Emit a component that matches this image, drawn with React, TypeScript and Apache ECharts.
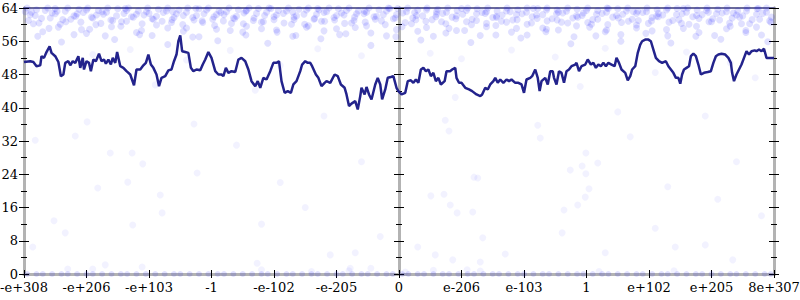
import React, { useEffect, useRef } from 'react';
import * as echarts from 'echarts';

// x axis: 13 evenly spaced ticks at -6..6, labelled with float magnitudes
const xTickLabels = ['-e+308', '-e+206', '-e+103', '-1', '-e-102', '-e-205', '0', 'e-206', 'e-103', '1', 'e+102', 'e+205', '8e+307'];
const xMin = -6;
const xMax = 6;
const yMin = 0;
const yMax = 64;
const yStep = 8;

// rolling mean line (x position, value)
const rollingMean: [number, number][] = [
  [-6.0, 51], [-5.9, 51.2], [-5.85, 51], [-5.8, 50], [-5.74, 50.2], [-5.72, 52.4], [-5.68, 52], [-5.64, 53.4], [-5.59, 54.8], [-5.56, 53.2],
  [-5.5, 52.4], [-5.45, 51], [-5.41, 47.6], [-5.37, 48], [-5.34, 50.8], [-5.29, 51.2], [-5.26, 50.2], [-5.22, 51.2], [-5.18, 50.8], [-5.13, 52.4],
  [-5.1, 49.6], [-5.06, 52], [-5.04, 49.2], [-5.0, 51.2], [-4.96, 50.8], [-4.93, 48.8], [-4.89, 51.6], [-4.85, 51.2], [-4.8, 53], [-4.76, 51.2],
  [-4.72, 51.6], [-4.69, 50.6], [-4.65, 51.6], [-4.61, 50.4], [-4.58, 52], [-4.54, 50.8], [-4.51, 53.4], [-4.46, 50], [-4.41, 49.6], [-4.36, 48.8],
  [-4.3, 48], [-4.24, 45.4], [-4.2, 49.2], [-4.14, 49.2], [-4.09, 50.2], [-4.05, 50.8], [-4.01, 52.8], [-3.97, 50.4], [-3.93, 49.6], [-3.88, 48],
  [-3.84, 45.2], [-3.8, 47.2], [-3.74, 47.6], [-3.69, 49], [-3.64, 49.2], [-3.6, 51.2], [-3.56, 52.8], [-3.53, 56], [-3.5, 57.4], [-3.47, 53.6],
  [-3.42, 53.4], [-3.37, 53.2], [-3.33, 49.6], [-3.29, 48.8], [-3.24, 49.2], [-3.18, 49], [-3.14, 50.4], [-3.1, 51.6],
  [-3.05, 53.4], [-3.0, 52], [-2.94, 48.8], [-2.89, 48], [-2.84, 48], [-2.81, 47.6], [-2.77, 49.6], [-2.73, 48.4], [-2.68, 48.8], [-2.62, 48.6],
  [-2.57, 51.6], [-2.52, 52], [-2.46, 51.2], [-2.41, 49.2], [-2.36, 46.4], [-2.3, 45.2], [-2.26, 46.4], [-2.22, 44.8], [-2.17, 47.2], [-2.12, 46.8],
  [-2.06, 48.8], [-2.01, 50.8], [-1.96, 50.8], [-1.92, 51.2], [-1.88, 46.4], [-1.83, 43.6], [-1.78, 44], [-1.73, 43.6], [-1.69, 45.6], [-1.64, 46.4],
  [-1.58, 48.8], [-1.55, 50.4], [-1.5, 51.2], [-1.46, 50.8], [-1.42, 50.8], [-1.39, 50], [-1.33, 48], [-1.29, 47.2], [-1.24, 45.2], [-1.19, 46],
  [-1.16, 46.4], [-1.1, 46], [-1.03, 48], [-0.98, 47.6], [-0.93, 45.6], [-0.87, 44.8], [-0.84, 43.2], [-0.8, 40.4], [-0.76, 41], [-0.7, 41.6],
  [-0.66, 39.6], [-0.62, 42.8], [-0.6, 44.8], [-0.55, 43.2], [-0.52, 45], [-0.48, 43.2], [-0.44, 42], [-0.38, 45.6], [-0.34, 47.2], [-0.3, 45.6],
  [-0.27, 42], [-0.22, 44.4], [-0.18, 47.2], [-0.13, 47.4], [-0.09, 47.6], [-0.04, 44.8],
  [-0.01, 44], [0.04, 43.2], [0.1, 43.6], [0.14, 46.4], [0.19, 46.6], [0.23, 46], [0.27, 46.8], [0.31, 46], [0.35, 49.2], [0.39, 49.6],
  [0.43, 48.8], [0.47, 49.2], [0.51, 47.6], [0.55, 48.4], [0.59, 46.4], [0.63, 47.2], [0.67, 45.6], [0.73, 46.4], [0.76, 48.8], [0.82, 48.8],
  [0.85, 49.2], [0.9, 49.6], [0.92, 47.2], [0.96, 46], [1.0, 46], [1.06, 44.8], [1.12, 44.4], [1.17, 44], [1.24, 43.2], [1.3, 42.8],
  [1.33, 43.2], [1.38, 44.8], [1.42, 44.4], [1.46, 45.6], [1.51, 46.4], [1.54, 47.2], [1.58, 46], [1.62, 46.8], [1.67, 46], [1.72, 46.8],
  [1.76, 46.4], [1.8, 46.8], [1.86, 46], [1.91, 46], [1.96, 45.6], [2.0, 43.6], [2.04, 46.8], [2.1, 47.2], [2.13, 47.6], [2.18, 49.2],
  [2.22, 47.2], [2.25, 44], [2.28, 46.4], [2.34, 47.2], [2.38, 45.6], [2.42, 48.8], [2.46, 48.8], [2.48, 47.2], [2.52, 45.6], [2.56, 48.8],
  [2.6, 48.4], [2.64, 46], [2.68, 48.8], [2.72, 49.2], [2.76, 50], [2.82, 50.4], [2.84, 50.8], [2.88, 48.8], [2.92, 50], [2.98, 50.4], [3.02, 51.6],
  [3.07, 50.4], [3.11, 50.8], [3.15, 49.6], [3.19, 50.4], [3.23, 50], [3.27, 50.8], [3.31, 50], [3.35, 50.8], [3.4, 50.4], [3.45, 50],
  [3.48, 52], [3.52, 50.8], [3.56, 49.2], [3.62, 48.4], [3.66, 46.6], [3.7, 47.6], [3.73, 49.2], [3.78, 50], [3.82, 53.2], [3.86, 55.2],
  [3.89, 56], [3.94, 56.4], [3.99, 56.4], [4.03, 56], [4.07, 54], [4.11, 52], [4.16, 51.2], [4.21, 50.8], [4.27, 51.2], [4.31, 50],
  [4.35, 49.2], [4.39, 48.4], [4.43, 47.2], [4.47, 47.2], [4.5, 45.8], [4.53, 48], [4.56, 49.2], [4.6, 49.6], [4.64, 50], [4.67, 52.4],
  [4.71, 53], [4.75, 52.4], [4.79, 50.4], [4.83, 48], [4.88, 48.4], [4.94, 48.6], [4.99, 48.8], [5.03, 50.8], [5.07, 52.4], [5.11, 52.8],
  [5.16, 53], [5.22, 52.8], [5.27, 52], [5.31, 50.8], [5.33, 48.4], [5.36, 46.4], [5.4, 48], [5.44, 49.2], [5.48, 50.4], [5.52, 52],
  [5.56, 53.6], [5.6, 52.8], [5.64, 53.6], [5.69, 53.8], [5.72, 53.6], [5.76, 54], [5.8, 53.6], [5.84, 54.2], [5.88, 52], [5.94, 52], [6.0, 52],
];

// faint sample points: dense band near the top
const topBand: [number, number][] = [
  [-5.95, 64], [-5.8, 63.6], [-5.62, 64], [-5.47, 63.2], [-5.3, 64], [-5.12, 63.7], [-4.98, 64], [-4.81, 63.4], [-4.66, 64], [-4.5, 63.8],
  [-4.33, 64], [-4.17, 63.3], [-4.02, 64], [-3.85, 63.7], [-3.7, 64], [-3.52, 63.5], [-3.38, 64], [-3.2, 63.8], [-3.05, 64], [-2.88, 63.3],
  [-2.72, 64], [-2.57, 63.6], [-2.4, 64], [-2.25, 63.9], [-2.08, 64], [-1.93, 63.4], [-1.77, 64], [-1.6, 63.7], [-1.45, 64], [-1.28, 63.5],
  [-1.12, 64], [-0.97, 63.8], [-0.8, 64], [-0.65, 63.3], [-0.48, 64], [-0.32, 63.6], [-0.17, 64], [-0.02, 63.9], [0.14, 64], [0.3, 63.5],
  [0.45, 64], [0.62, 63.7], [0.78, 64], [0.93, 63.4], [1.1, 64], [1.25, 63.8], [1.42, 64], [1.57, 63.3], [1.73, 64], [1.9, 63.6],
  [2.05, 64], [2.22, 63.9], [2.37, 64], [2.53, 63.5], [2.7, 64], [2.85, 63.7], [3.02, 64], [3.18, 63.4], [3.33, 64], [3.5, 63.8],
  [3.66, 64], [3.82, 63.2], [3.97, 64], [4.13, 63.6], [4.3, 64], [4.45, 63.9], [4.62, 64], [4.77, 63.5], [4.93, 64], [5.1, 63.7],
  [5.25, 64], [5.42, 63.3], [5.57, 64], [5.73, 63.8], [5.88, 64],
  [-5.88, 63], [-5.5, 63.9], [-5.15, 62.6], [-4.75, 63.1], [-4.38, 63.9], [-4.0, 62.7], [-3.62, 63.1], [-3.25, 63.9], [-2.85, 62.9], [-2.45, 63.2],
  [-2.05, 63.9], [-1.7, 63], [-1.3, 63.9], [-0.92, 62.8], [-0.55, 63.2], [-0.15, 63.9], [0.25, 62.9], [0.6, 63.1], [1.0, 63.9], [1.38, 62.7],
  [1.78, 63.1], [2.15, 63.9], [2.55, 63], [2.95, 62.8], [3.35, 63.9], [3.75, 63.1], [4.15, 62.7], [4.55, 63.9], [4.95, 63], [5.35, 62.8], [5.75, 63.9],
  [-5.98, 63.1], [-5.82, 62.2], [-5.66, 63.4], [-5.5, 62.6], [-5.34, 63.2], [-5.17, 62], [-5.0, 63.5], [-4.84, 62.3], [-4.68, 63], [-4.52, 62.1],
  [-4.36, 63.4], [-4.2, 62.5], [-4.04, 63.1], [-3.88, 62], [-3.72, 63.3], [-3.56, 62.6], [-3.4, 63], [-3.24, 62.2], [-3.08, 63.5], [-2.92, 62.4],
  [-2.76, 63.1], [-2.6, 62], [-2.44, 63.4], [-2.28, 62.7], [-2.12, 63], [-1.96, 62.3], [-1.8, 63.3], [-1.64, 62.1], [-1.48, 63.5], [-1.32, 62.5],
  [-1.16, 63.1], [-1.0, 62.2], [-0.84, 63.4], [-0.68, 62.6], [-0.52, 63], [-0.36, 62], [-0.2, 63.3], [-0.04, 62.4], [0.12, 63.1], [0.28, 62.2],
  [0.44, 63.5], [0.6, 62.5], [0.76, 63], [0.92, 62.1], [1.08, 63.4], [1.24, 62.6], [1.4, 63.1], [1.56, 62], [1.72, 63.3], [1.88, 62.4],
  [2.04, 63], [2.2, 62.3], [2.36, 63.5], [2.52, 62.6], [2.68, 63.2], [2.84, 62.1], [3.0, 63.4], [3.16, 62.5], [3.32, 63], [3.48, 62.2],
  [3.64, 63.3], [3.8, 62.7], [3.96, 63.1], [4.12, 62], [4.28, 63.5], [4.44, 62.4], [4.6, 63], [4.76, 62.2], [4.92, 63.4], [5.08, 62.6],
  [5.24, 63.1], [5.4, 62.3], [5.56, 63.3], [5.72, 62.5], [5.88, 63],
  [-5.9, 62.4], [-5.72, 61.5], [-5.55, 62.8], [-5.38, 61.2], [-5.2, 62.1], [-5.05, 62.9], [-4.9, 61.6], [-4.73, 62.5], [-4.58, 61], [-4.4, 62.7],
  [-4.25, 61.8], [-4.08, 62.3], [-3.93, 61.3], [-3.77, 62.9], [-3.6, 61.7], [-3.45, 62.2], [-3.28, 61.1], [-3.12, 62.6], [-2.96, 61.9], [-2.8, 62.4],
  [-2.63, 61.4], [-2.48, 62.8], [-2.32, 61.6], [-2.15, 62.2], [-2.0, 61.2], [-1.85, 62.7], [-1.68, 61.8], [-1.52, 62.5], [-1.36, 61.3], [-1.2, 62.9],
  [-1.04, 61.7], [-0.88, 62.3], [-0.72, 61], [-0.56, 62.6], [-0.4, 61.9], [-0.25, 62.4], [-0.09, 61.4], [0.06, 62.8], [0.22, 61.6], [0.38, 62.1],
  [0.53, 61.2], [0.7, 62.7], [0.85, 61.8], [1.02, 62.5], [1.17, 61.3], [1.33, 62.9], [1.5, 61.7], [1.65, 62.3], [1.82, 61.1], [1.97, 62.6],
  [2.13, 61.9], [2.3, 62.4], [2.45, 61.4], [2.62, 62.8], [2.78, 61.6], [2.93, 62.2], [3.1, 61.2], [3.25, 62.7], [3.42, 61.8], [3.58, 62.5],
  [3.73, 61.3], [3.9, 62.9], [4.05, 61.7], [4.22, 62.3], [4.38, 61], [4.53, 62.6], [4.7, 61.9], [4.85, 62.4], [5.02, 61.4], [5.17, 62.8],
  [5.33, 61.6], [5.5, 62.1], [5.65, 61.2], [5.82, 62.7], [5.96, 61.8],
  [-5.93, 61], [-5.76, 60.4], [-5.58, 61.6], [-5.42, 60.1], [-5.25, 61.3], [-5.09, 60.6], [-4.92, 61.8], [-4.77, 60.3], [-4.61, 61.1], [-4.44, 60.7],
  [-4.28, 61.9], [-4.11, 60.2], [-3.95, 61.4], [-3.79, 60.8], [-3.63, 61.2], [-3.46, 60], [-3.3, 61.7], [-3.14, 60.5], [-2.98, 61.3], [-2.81, 60.9],
  [-2.65, 61.6], [-2.49, 60.2], [-2.33, 61], [-2.17, 60.7], [-2.0, 61.9], [-1.84, 60.4], [-1.68, 61.2], [-1.51, 60.1], [-1.35, 61.5], [-1.19, 60.8],
  [-1.03, 61.1], [-0.87, 60.3], [-0.71, 61.8], [-0.54, 60.6], [-0.38, 61.3], [-0.22, 60], [-0.06, 61.6], [0.1, 60.5], [0.27, 61.2], [0.43, 60.8],
  [0.59, 61.9], [0.75, 60.2], [0.91, 61.4], [1.08, 60.7], [1.24, 61], [1.4, 60.3], [1.56, 61.7], [1.72, 60.6], [1.89, 61.2], [2.05, 60.1],
  [2.21, 61.5], [2.37, 60.9], [2.53, 61.1], [2.7, 60.4], [2.86, 61.8], [3.02, 60.5], [3.18, 61.3], [3.34, 60], [3.51, 61.6], [3.67, 60.8],
  [3.83, 61], [3.99, 60.3], [4.15, 61.9], [4.32, 60.6], [4.48, 61.2], [4.64, 60.1], [4.8, 61.5], [4.96, 60.7], [5.13, 61.1], [5.29, 60.4],
  [5.45, 61.8], [5.61, 60.2], [5.77, 61.3], [5.93, 60.9],
  [-5.85, 60.2], [-5.6, 59.1], [-5.33, 60.7], [-5.08, 58.8], [-4.85, 60], [-4.6, 59.5], [-4.36, 60.8], [-4.12, 58.6], [-3.88, 59.9], [-3.64, 60.5],
  [-3.4, 59.2], [-3.15, 60.9], [-2.92, 58.9], [-2.68, 60.3], [-2.44, 59.6], [-2.2, 60.6], [-1.96, 58.7], [-1.72, 60.1], [-1.48, 59.4], [-1.24, 60.8],
  [-1.0, 59], [-0.76, 60.4], [-0.52, 59.7], [-0.28, 60.9], [-0.04, 58.8], [0.2, 60.2], [0.44, 59.3], [0.68, 60.7], [0.92, 58.6], [1.16, 60],
  [1.4, 59.5], [1.64, 60.8], [1.88, 59.1], [2.12, 60.4], [2.36, 58.9], [2.6, 60.6], [2.84, 59.7], [3.08, 60.1], [3.32, 58.7], [3.56, 60.5],
  [3.8, 59.2], [4.04, 60.9], [4.28, 58.8], [4.52, 60.3], [4.76, 59.6], [5.0, 60.7], [5.24, 59], [5.48, 60.2], [5.72, 59.4], [5.95, 60.6],
  [-5.7, 58.3], [-5.45, 59.4], [-5.2, 57.6], [-4.95, 58.9], [-4.7, 57.3], [-4.45, 59.6], [-4.2, 58.1], [-3.95, 57.4], [-3.7, 59.2], [-3.45, 58.4],
  [-3.2, 57.1], [-2.95, 59.8], [-2.7, 58.6], [-2.45, 57.5], [-2.2, 59], [-1.95, 58.2], [-1.7, 57.2], [-1.45, 59.7], [-1.2, 58.5], [-0.95, 57.6],
  [-0.7, 59.3], [-0.45, 58], [-0.2, 57.3], [0.05, 59.5], [0.3, 58.4], [0.55, 57.2], [0.8, 59.1], [1.05, 58.6], [1.3, 57.4], [1.55, 59.8],
  [1.8, 58.2], [2.05, 57.5], [2.3, 59.2], [2.55, 58.7], [2.8, 57.1], [3.05, 59.4], [3.3, 58.3], [3.55, 57.6], [3.8, 59.9], [4.05, 58.5],
  [4.3, 57.3], [4.55, 59.1], [4.8, 58.1], [5.05, 57.4], [5.3, 59.6], [5.55, 58.6], [5.8, 57.5],
  [-5.78, 57.2], [-5.4, 55.8], [-5.0, 57.9], [-4.55, 56.4], [-4.15, 57.6], [-3.7, 55.2], [-3.3, 57], [-2.9, 56.1], [-2.5, 58.2], [-2.1, 55.5],
  [-1.65, 57.4], [-1.25, 56.6], [-0.85, 57.8], [-0.45, 55], [-0.05, 57.1], [0.35, 56.3], [0.75, 58], [1.15, 55.7], [1.55, 57.5], [1.95, 56.8],
  [2.35, 58.3], [2.75, 55.4], [3.15, 57.3], [3.55, 56], [3.95, 57.9], [4.35, 55.6], [4.75, 57.2], [5.15, 56.5], [5.55, 58.1], [5.9, 55.9],
];

// sparse, very faint points below the band
const sparsePoints: [number, number][] = [
  [-5.6, 53.5], [-4.9, 52.8], [-4.3, 54], [-3.4, 51.5], [-2.7, 53.8], [-1.9, 50.2], [-1.3, 54.2], [-0.6, 52.5], [0.5, 53.1], [1.0, 51.8],
  [1.8, 53.9], [2.5, 52.2], [3.3, 54.3], [4.1, 48.5], [4.6, 53.4], [5.3, 50.8], [5.7, 47.2], [-3.9, 45.5], [-2.3, 44.2], [0.9, 42.5], [2.9, 45.1],
  [-4.99, 36.6], [-5.18, 33.2], [-5.82, 32.2], [-4.62, 29.1], [-4.27, 29.1], [-4.1, 26.5], [-4.34, 22.1], [-4.82, 20.7], [-3.82, 19], [-3.79, 14.7],
  [-5.52, 12.8], [-5.34, 9.9], [-4.26, 11.8], [-3.23, 24.3], [-3.28, 36.1], [0.74, 37], [0.8, 34.4], [2.22, 35.8], [2.26, 32.7], [2.99, 29.1],
  [3.18, 26.7], [2.93, 26], [2.74, 25], [2.99, 24.1], [1.2, 23.3], [1.26, 23.1], [3.04, 20.5], [0.72, 19.2], [0.51, 18.8], [0.82, 16.6],
  [2.98, 18.5], [2.86, 16.6], [0.93, 14.7], [1.18, 14.9], [2.64, 15.4], [2.61, 9.9], [1.34, 8.7],
  [-2.6, 31], [-1.9, 22], [-1.2, 38], [-0.6, 27], [-2.2, 12], [-1.5, 16], [-0.3, 9], [3.7, 33], [4.3, 21], [4.9, 38], [5.4, 27], [5.8, 14], [4.1, 11], [3.5, 39], [5.1, 18],
  [-5.86, 6.5], [-4.7, 2.2], [-4.11, 1.7], [-2.27, 2.6], [-1.1, 4.6], [-0.7, 5.1], [-0.78, 1.4], [0.3, 6.5], [0.58, 4.6], [0.86, 3.4],
  [1.3, 2.9], [1.7, 4.8], [3.3, 5.1], [4.42, 6.5], [4.9, 7.0], [5.34, 3.4], [1.09, 1.0],
  [-5.3, 1.2], [-4.9, 1.2], [-2.2, 1.0], [-1.4, 0.6], [-0.8, 0.8], [-0.45, 1.4], [0.1, 0.5], [0.55, 0.9], [1.3, 0.7], [3.2, 0.6], [4.4, 0.8],
];

// points sitting at zero along the bottom
const zeroRowX: number[] = [
  -5.95, -5.8, -5.7, -5.55, -5.4, -5.3, -5.15, -5.0, -4.9, -4.75, -4.6, -4.45, -4.35, -4.2, -4.05, -3.9, -3.75, -3.6, -3.5, -3.35,
  -3.2, -3.05, -2.9, -2.8, -2.65, -2.5, -2.35, -2.2, -2.1, -1.95, -1.8, -1.7, -1.55, -1.4, -1.3, -1.15, -1.0, -0.9, -0.75, -0.6,
  -0.5, -0.35, -0.2, -0.1, 0.05, 0.15, 0.3, 0.4, 0.55, 0.7, 0.8, 0.95, 1.1, 1.2, 1.35, 1.5, 1.6, 1.75, 1.9, 2.0,
  2.15, 2.3, 2.4, 2.55, 2.7, 2.85, 2.95, 3.1, 3.25, 3.35, 3.5, 3.65, 3.8, 3.9, 4.05, 4.2, 4.3, 4.45, 4.6, 4.75,
  4.85, 5.0, 5.15, 5.3, 5.4, 5.55, 5.7, 5.85, 5.95,
];

export default function App() {
  const ref = useRef<HTMLDivElement>(null);

  useEffect(() => {
    if (!ref.current) return;
    const chart = echarts.init(ref.current, null, { renderer: 'svg' });

    const font = { fontFamily: "'DejaVu Serif', serif", fontSize: 13, color: '#000' };
    const axisLineStyle = { color: '#b3b3b3', width: 3 };
    const tickStyle = { color: '#000', width: 1 };

    const yBase = { type: 'value', min: yMin, max: yMax, interval: yStep, splitLine: { show: false } };
    const makeY = (position: string, inside: boolean, onZero: boolean, labels: boolean) => ({
      ...yBase,
      position,
      axisLine: { show: true, onZero, lineStyle: axisLineStyle },
      axisTick: { show: true, inside, length: 5, lineStyle: tickStyle },
      minorTick: { show: true, splitNumber: 2, length: 3, lineStyle: tickStyle },
      axisLabel: labels ? { show: true, margin: 6, ...font } : { show: false },
    });

    const xBase = { type: 'value', min: xMin, max: xMax, interval: 1, splitLine: { show: false } };

    const zeroRow = zeroRowX.map((x) => [x, 0] as [number, number]);

    chart.setOption({
      animation: false,
      grid: { left: 24, right: 26, top: 8, bottom: 26, outerBoundsMode: 'none' },
      xAxis: [
        {
          ...xBase,
          position: 'bottom',
          axisLine: { show: true, onZero: false, lineStyle: axisLineStyle },
          axisTick: { show: true, inside: false, length: 4, lineStyle: tickStyle },
          axisLabel: {
            show: true,
            margin: 7,
            ...font,
            formatter: (v: number) => xTickLabels[Math.round(v) - xMin] ?? '',
          },
        },
        {
          ...xBase,
          position: 'bottom',
          axisLine: { show: true, onZero: false, lineStyle: axisLineStyle },
          axisTick: { show: true, inside: true, length: 4, lineStyle: tickStyle },
          axisLabel: { show: false },
        },
        {
          ...xBase,
          position: 'top',
          axisLine: { show: true, onZero: false, lineStyle: { color: '#6b6b9a', width: 2 } },
          axisTick: { show: false },
          axisLabel: { show: false },
        },
      ],
      yAxis: [
        makeY('left', false, false, true),
        makeY('left', true, false, false),
        makeY('right', false, false, false),
        makeY('right', true, false, false),
        makeY('left', false, true, false),
        makeY('left', true, true, false),
      ],
      series: [
        {
          type: 'scatter',
          data: topBand,
          symbol: 'circle',
          symbolSize: 7,
          itemStyle: { color: '#0000ff', opacity: 0.12 },
          silent: true,
          z: 1,
        },
        {
          type: 'scatter',
          data: zeroRow,
          symbol: 'circle',
          symbolSize: 6,
          itemStyle: { color: '#0000ff', opacity: 0.12 },
          silent: true,
          z: 1,
        },
        {
          type: 'scatter',
          data: sparsePoints,
          symbol: 'circle',
          symbolSize: 7,
          itemStyle: { color: '#0000ff', opacity: 0.05 },
          silent: true,
          z: 1,
        },
        {
          type: 'line',
          data: rollingMean,
          showSymbol: false,
          symbol: 'none',
          lineStyle: { color: '#23238c', width: 2.5 },
          silent: true,
          z: 3,
        },
      ],
    });

    return () => chart.dispose();
  }, []);

  return (
    <div
      ref={ref}
      style={{ position: 'fixed', left: 0, top: 0, width: 800, height: 300, background: '#fff' }}
    />
  );
}
